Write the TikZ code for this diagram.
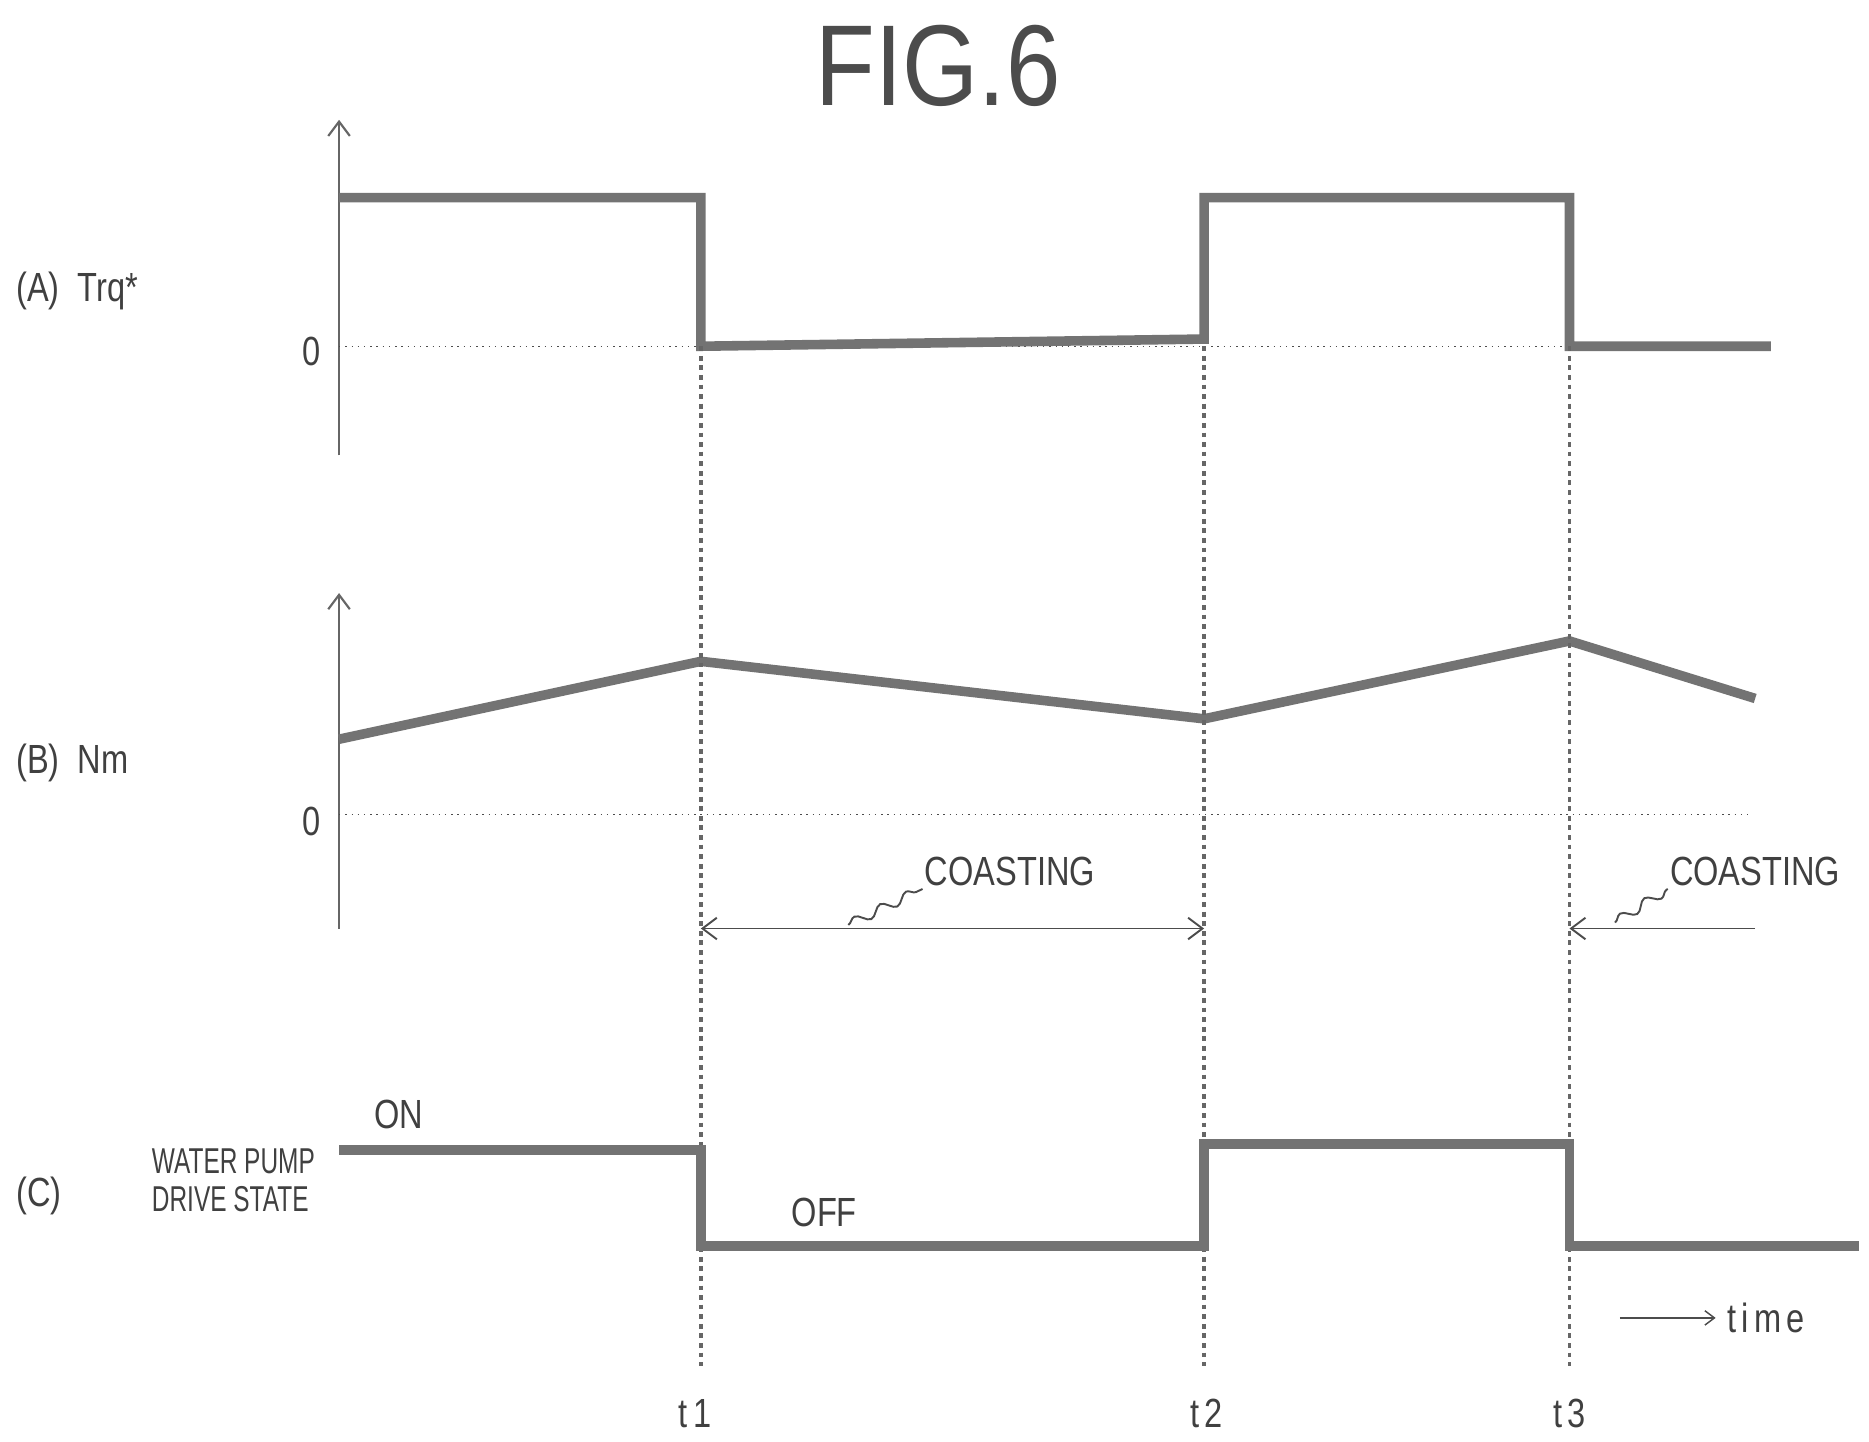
\documentclass[tikz,border=0pt]{standalone}
\usepackage{fontspec}
\setmainfont{Liberation Sans}
\usetikzlibrary{arrows.meta,decorations.pathmorphing}
\begin{document}
\begin{tikzpicture}[x=0.5pt,y=-0.5pt,
  wave/.style={line width=4pt,color=black!55},
  axis/.style={line width=0.9pt,color=black!60,-{Straight Barb[length=6pt,width=9pt]}},
  zero/.style={line width=0.6pt,dotted,color=black!70},
  vdash/.style={line width=1.4pt,dash pattern=on 2pt off 2pt,color=black!60},
  lbl/.style={font=\fontsize{17}{19}\selectfont,color=black!75,xscale=0.8,transform shape},
  coast/.style={line width=0.8pt,color=black!70},
  lead/.style={line width=0.8pt,color=black!70,decorate,decoration={snake,amplitude=2pt,segment length=12pt}}]
\useasboundingbox (0,0) rectangle (1560,1203);
\node[font=\fontsize{48}{50}\selectfont,color=black!70,xscale=0.85,transform shape] (title) at (783,55) {FIG.6};
% panel A
\coordinate (a0) at (283,380); \coordinate (a1) at (283,100);
\draw[axis] (a0) -- (a1);
\coordinate (za) at (283,289); \coordinate (zaE) at (1475,289);
\draw[zero] (za) -- (zaE);
\node[lbl] (A0) at (260,293) {0};
\node[lbl,anchor=west] (A) at (8,243) {(A)\ \ Trq*};
\draw[wave,line join=miter] (283,165) -- (585,165) -- (585,289) -- (1005,283) -- (1005,165) -- (1310,165) -- (1310,289) -- (1478,289);
% panel B
\coordinate (b0) at (283,775); \coordinate (b1) at (283,495);
\draw[axis] (b0) -- (b1);
\coordinate (zb) at (283,680); \coordinate (zbE) at (1460,680);
\draw[zero] (zb) -- (zbE);
\node[lbl] (B0) at (260,686) {0};
\node[lbl,anchor=west] (B) at (8,637) {(B)\ \ Nm};
\draw[wave] (283,617) -- (585,552) -- (1005,600) -- (1310,535) -- (1465,583);
% verticals
\foreach \x/\n in {585/t1,1005/t2,1310/t3}{
  \coordinate (\n top) at (\x,289); \coordinate (\n bot) at (\x,1140);
  \draw[vdash] (\n top) -- (\n bot);}
% coasting
\coordinate (c1) at (585,775); \coordinate (c2) at (1005,775);
\draw[coast,{Straight Barb[length=6pt,width=9pt]}-{Straight Barb[length=6pt,width=9pt]}] (c1) -- (c2);
\node[lbl] (co1) at (843,727) {COASTING};
\draw[lead] (708,772) -- (770,742);
\coordinate (c3) at (1465,775); \coordinate (c4) at (1310,775);
\draw[coast,-{Straight Barb[length=6pt,width=9pt]}] (c3) -- (c4);
\node[lbl] (co2) at (1465,727) {COASTING};
\draw[lead] (1348,770) -- (1392,742);
% panel C
\node[lbl] (on) at (333,930) {ON};
\node[lbl] (off) at (688,1012) {OFF};
\node[lbl,anchor=west] (C) at (8,998) {(C)};
\node[lbl,align=left,anchor=west,font=\fontsize{15}{16}\selectfont,xscale=0.85] (Ct) at (122,985) {WATER PUMP\\DRIVE STATE};
\draw[wave,line join=miter] (283,960) -- (585,960) -- (585,1040) -- (1005,1040) -- (1005,955) -- (1310,955) -- (1310,1040) -- (1552,1040);
% time
\coordinate (tm0) at (1352,1100); \coordinate (tm1) at (1432,1100);
\draw[zero,-{Straight Barb[length=4pt,width=6pt]},solid,line width=0.6pt] (tm0) -- (tm1);
\node[lbl,anchor=west] (time) at (1436,1100) {t\,i\,m\,e};
\node[lbl] (lt1) at (580,1180) {t\,1};
\node[lbl] (lt2) at (1007,1180) {t\,2};
\node[lbl] (lt3) at (1310,1180) {t\,3};
\end{tikzpicture}
\end{document}
